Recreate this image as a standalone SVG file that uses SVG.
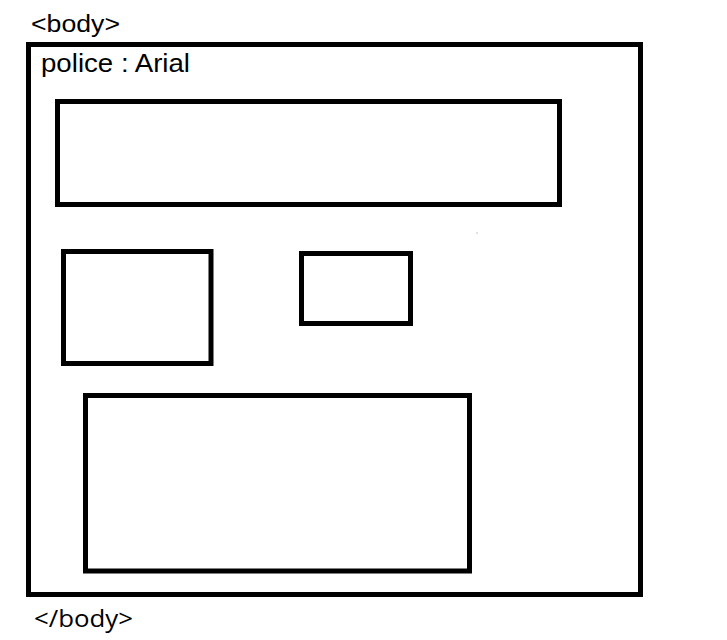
<svg xmlns="http://www.w3.org/2000/svg" width="727" height="640" viewBox="0 0 727 640">
<style>
.box{fill:none;stroke:#000;stroke-width:5}
.lbl{font-family:"Liberation Sans",Arial,sans-serif;fill:#000}
.lbl2{font-family:"Open Sans","DejaVu Sans",sans-serif;fill:#000}
</style>
<rect width="727" height="640" fill="#fff"/>
<g id="body">
<text class="lbl" x="31" y="32" font-size="23" textLength="89" lengthAdjust="spacingAndGlyphs">&lt;body&gt;</text>
<rect class="box" x="28.5" y="44.5" width="612" height="550"/>
<text class="lbl" x="41" y="72" font-size="26" textLength="149" lengthAdjust="spacingAndGlyphs">police : Arial</text>
<text class="lbl2" x="34" y="627" font-size="23" textLength="99" lengthAdjust="spacingAndGlyphs">&lt;/body&gt;</text>
</g>
<g id="box1"><rect class="box" x="57.5" y="101.5" width="502" height="103"/></g>
<g id="box2"><rect class="box" x="63.5" y="251.5" width="147.5" height="112"/></g>
<g id="box3"><rect class="box" x="301.5" y="253.5" width="109" height="70"/></g>
<g id="box4"><rect class="box" x="85.5" y="395.5" width="384" height="175.5"/></g>
<g id="dot"><rect x="476.5" y="232.5" width="1" height="1" fill="#888"/></g>
<g id="connectors"/>
</svg>
